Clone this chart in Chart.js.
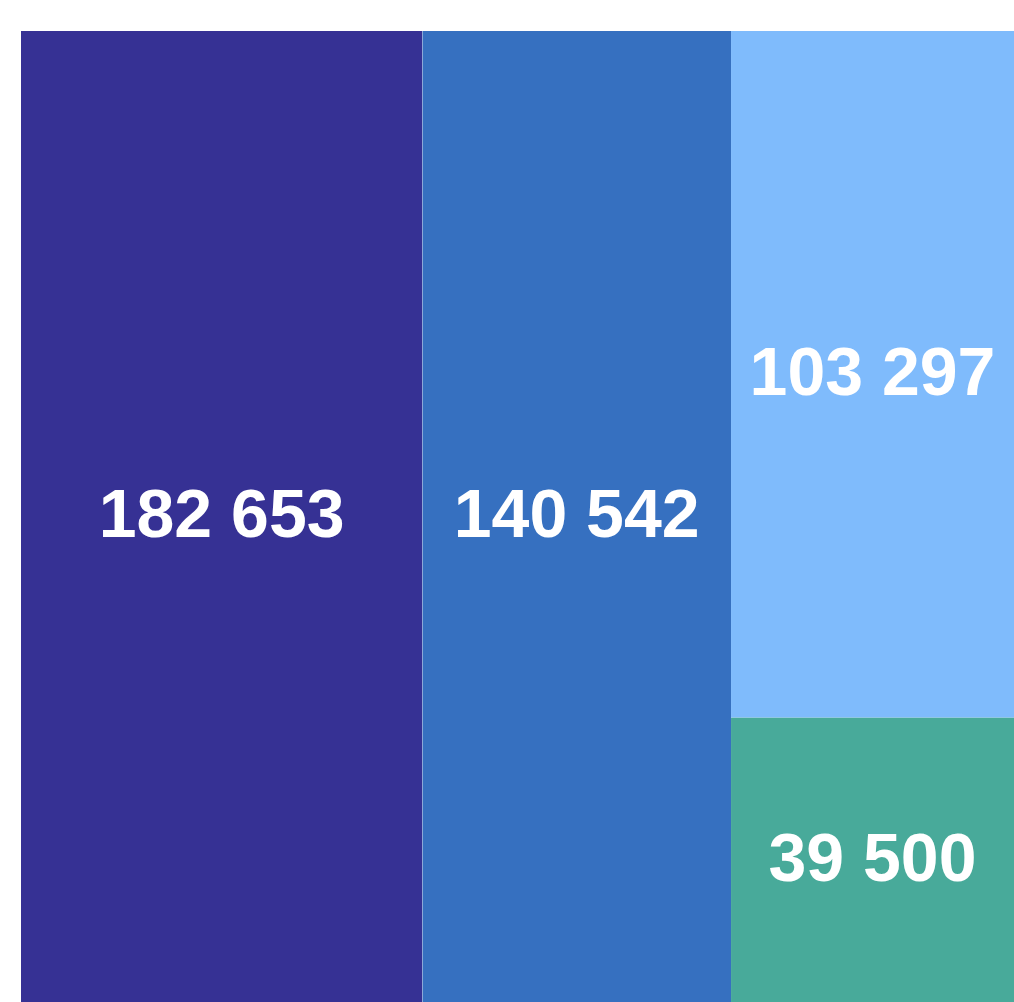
<!DOCTYPE html>
<html>
<head>
<meta charset="utf-8">
<style>
  body { margin: 0; background: #fff; }
  #wrap { width: 1014px; height: 1002px; }
</style>
</head>
<body>
<div id="wrap">
  <canvas id="myChart" width="1014" height="1002"></canvas>
</div>

<script src="https://cdn.jsdelivr.net/npm/chart.js"></script>
<script>
// treemap values
const categories = ['A', 'B', 'C', 'D'];
const values = [182653, 140542, 103297, 39500];
const columnOf = [0, 1, 2, 2];   // which vertical strip each tile sits in
const colors = ['#363194', '#3670C0', '#7FBBFC', '#48AA9A'];

// slice-and-dice layout in data units: x = running sum, y = share of the strip
const total = values.reduce((a, b) => a + b, 0);
const nCols = Math.max(...columnOf) + 1;
const colSum = [];
for (let c = 0; c < nCols; c++) {
  colSum.push(values.filter((v, i) => columnOf[i] === c).reduce((a, b) => a + b, 0));
}
const tiles = [];
let xStart = 0;
for (let c = 0; c < nCols; c++) {
  const idx = values.map((v, i) => i).filter(i => columnOf[i] === c);
  let yTop = 1;
  idx.forEach(i => {
    const h = values[i] / colSum[c];
    tiles.push({ i: i, x0: xStart, x1: xStart + colSum[c], y0: Math.max(0, yTop - h), y1: yTop });
    yTop -= h;
  });
  xStart += colSum[c];
}

const datasets = tiles.map(t => ({
  label: categories[t.i],
  data: [{ x: t.x0, y: t.y1 }, { x: t.x1, y: t.y1 }],
  // tiles on the base run down to the start of the axis
  fill: t.y0 <= 1e-9 ? 'start' : { value: t.y0 },
  backgroundColor: colors[t.i],
  borderColor: colors[t.i],
  borderWidth: 0,
  pointRadius: 0,
  tension: 0
}));

function fmt(n) {
  return String(n).replace(/\B(?=(\d{3})+(?!\d))/g, ' ');
}

// white value labels in the middle of the visible part of each tile
const tileLabels = {
  id: 'tileLabels',
  afterDatasetsDraw(chart) {
    const { ctx, chartArea: a, scales: { x, y } } = chart;
    ctx.save();
    ctx.fillStyle = '#ffffff';
    ctx.font = 'bold 68px "Liberation Sans", Arial, sans-serif';
    ctx.textAlign = 'center';
    ctx.textBaseline = 'middle';
    tiles.forEach(t => {
      const left = Math.max(a.left, x.getPixelForValue(t.x0));
      const right = Math.min(a.right, x.getPixelForValue(t.x1));
      const top = Math.max(a.top, y.getPixelForValue(t.y1));
      const bottom = t.y0 <= 1e-9 ? a.bottom : Math.min(a.bottom, y.getPixelForValue(t.y0));
      ctx.fillText(fmt(values[t.i]), (left + right) / 2, (top + bottom) / 2 + 2);
    });
    ctx.restore();
  }
};

const ctx = document.getElementById('myChart');
const myChart = new Chart(ctx, {
  type: 'line',
  data: { datasets: datasets },
  options: {
    responsive: false,
    animation: false,
    layout: { padding: { left: 21, top: 31, right: 0, bottom: 0 } },
    plugins: { legend: { display: false }, tooltip: { enabled: false } },
    scales: {
      x: { type: 'linear', min: 0, max: 452000, display: false },
      y: { type: 'linear', min: -0.023, max: 1, display: false }
    }
  },
  plugins: [tileLabels]
});
</script>
</body>
</html>
